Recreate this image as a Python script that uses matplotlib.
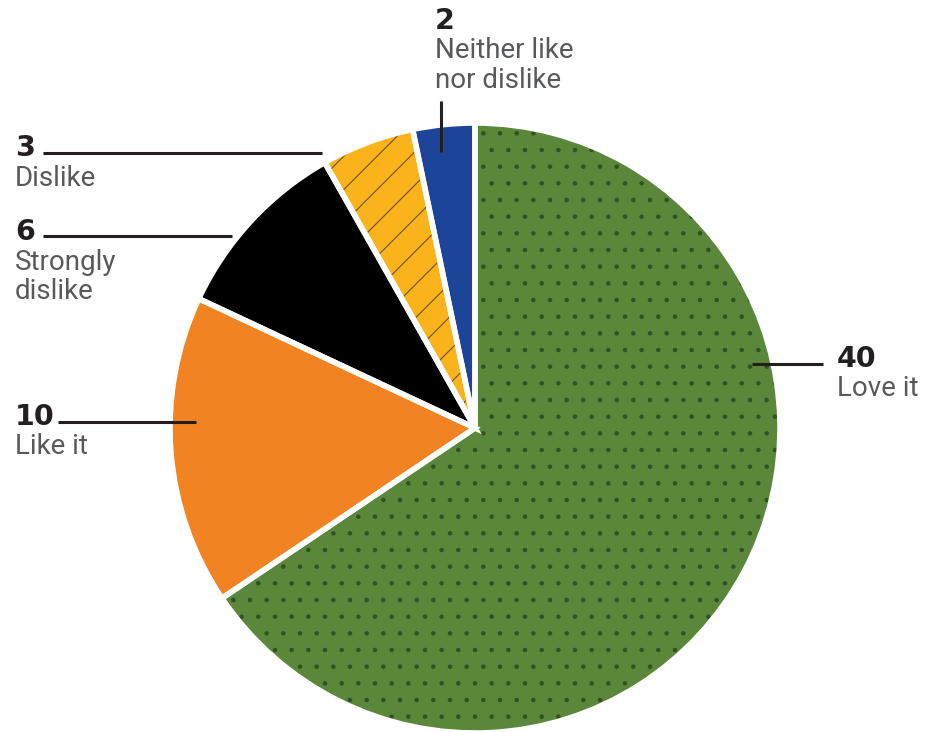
import matplotlib.pyplot as plt
from matplotlib.patches import Wedge

# data, clockwise from 12 o'clock
categories = ["Love it", "Like it", "Strongly\ndislike", "Dislike", "Neither like\nnor dislike"]
values = [40, 10, 6, 3, 2]
colors = ["#5b873b", "#f28322", "#000000", "#fbb31b", "#1c4599"]
hatch_colors = ["#2f5220", "none", "none", "#6b5320", "none"]
hatches = [".", None, None, "/", None]

W, H = 926, 732
fig = plt.figure(figsize=(W / 100, H / 100), dpi=100)
ax = fig.add_axes([0, 0, 1, 1])

cx, cy, r = 475, H - 428, 305
plt.rcParams["hatch.linewidth"] = 0.8

wedges, _ = ax.pie(values, colors=colors, startangle=90, counterclock=False,
                   center=(cx, cy), radius=r, frame=True,
                   wedgeprops=dict(linewidth=0))
# texture layer
for w, hc, h in zip(wedges, hatch_colors, hatches):
    if h is None:
        continue
    ax.add_patch(Wedge(w.center, w.r, w.theta1, w.theta2, facecolor="none",
                       edgecolor=hc, hatch=h, linewidth=0))
# white separators
for w in wedges:
    ax.add_patch(Wedge(w.center, w.r, w.theta1, w.theta2, facecolor="none",
                       edgecolor="white", linewidth=4, joinstyle="miter"))
ax.set_xlim(0, W)
ax.set_ylim(0, H)
ax.set_aspect("equal")
ax.axis("off")

num_color = "#231f20"
lab_color = "#58595b"

# label anchors (text x, number baseline y) and leader lines, in pixels
labels_pos = [(837, 367), (15, 425), (15, 240), (15, 156), (435, 29)]
leaders = [((752, 364), (823, 364)),
           ((58, 422), (196, 422)),
           ((43, 236), (232, 236)),
           ((43, 153), (322, 153)),
           ((441, 101), (441, 152))]
step = 29.5

for val, cat, (tx, ty), ((x0, y0), (x1, y1)) in zip(values, categories, labels_pos, leaders):
    ax.text(tx, H - ty, str(val), fontsize=20.5, fontweight="bold", family="DejaVu Sans",
            color=num_color, va="baseline", ha="left")
    for i, line in enumerate(cat.split("\n")):
        ax.text(tx, H - ty - step * (i + 1), line, fontsize=20, family="Roboto",
                color=lab_color, va="baseline", ha="left")
    ax.plot([x0, x1], [H - y0, H - y1], color=num_color, linewidth=2.2,
            solid_capstyle="butt")

fig.savefig("out.png", dpi=100)
